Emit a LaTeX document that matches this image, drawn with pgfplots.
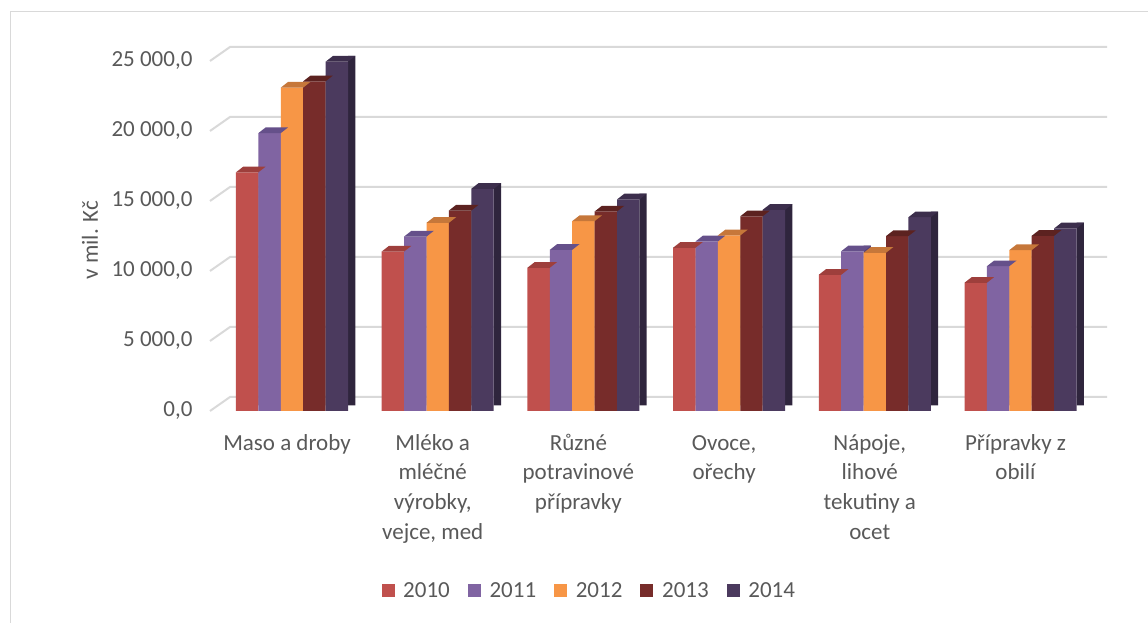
\documentclass[border=0pt]{standalone}
\usepackage{pgfplots}
\usepackage{pgfplotstable}
\usepackage{fontspec}
\setmainfont{Carlito}
\pgfplotsset{compat=1.18}
\definecolor{c2010}{HTML}{C0504D}
\definecolor{t2010c}{HTML}{9E3F3C}
\definecolor{s2010c}{HTML}{8A3533}
\definecolor{c2011}{HTML}{8064A2}
\definecolor{t2011c}{HTML}{65508A}
\definecolor{s2011c}{HTML}{574377}
\definecolor{c2012}{HTML}{F79646}
\definecolor{t2012c}{HTML}{C6773A}
\definecolor{s2012c}{HTML}{B06A33}
\definecolor{c2013}{HTML}{772C2A}
\definecolor{t2013c}{HTML}{5C2220}
\definecolor{s2013c}{HTML}{4F1D1C}
\definecolor{c2014}{HTML}{4B3A5E}
\definecolor{t2014c}{HTML}{3C2E4C}
\definecolor{s2014c}{HTML}{2F253D}
\definecolor{gridc}{HTML}{D9D9D9}
\definecolor{textc}{HTML}{595959}
\newcommand\labsize{\fontsize{17.25}{22.2}\selectfont}
\newcommand\ticksize{\fontsize{17.25}{20}\selectfont}
\newcommand\fs{\rule{0pt}{15pt}}
% top face of a bar, as a plot mark drawn at the bar's top centre
\pgfdeclareplotmark{topface}{%
  \pgfpathmoveto{\pgfqpoint{-8.4pt}{0pt}}%
  \pgfpathlineto{\pgfqpoint{8.4pt}{0pt}}%
  \pgfpathlineto{\pgfqpoint{13.9pt}{4.3pt}}%
  \pgfpathlineto{\pgfqpoint{-2.9pt}{4.3pt}}%
  \pgfpathclose
  \pgfusepathqfill}
\pgfplotstableread{
x t2010 t2011 t2012 t2013 t2014
0 17050 19850 23100 23550 24950
1 11390 12460 13440 14320 15870
2 10230 11510 13560 14250 15110
3 11660 12110 12540 13910 14370
4  9730 11410 11300 12490 13840
5  9160 10340 11490 12510 13040
}\data
\pgfplotsset{
  frontbar/.style={ybar, bar width=16.8pt, draw=none, fill=#1,
    legend image code/.code={\fill[fill=#1] (0pt,-4.9pt) rectangle (9.75pt,4.9pt);}},
  sidebar/.style={forget plot, ybar, bar width=5.5pt, draw=none, fill=#1, yshift=4.3pt},
  topbar/.style={forget plot, only marks, mark=topface, mark options={draw=none, fill=#1}},
}
\begin{document}
\begin{tikzpicture}
\begin{axis}[
  x=109.275pt, y=688sp,
  xmin=-0.5, xmax=5.5, ymin=0, ymax=25000,
  clip=false,
  axis line style={draw=none},
  major tick length=0pt,
  xtick={0,...,5},
  xticklabels={{\fs Maso a droby},{\fs Mléko a\\mléčné\\výrobky,\\vejce, med},{\fs Různé\\potravinové\\přípravky},{\fs Ovoce,\\ořechy},{\fs Nápoje,\\lihové\\tekutiny a\\ocet},{\fs Přípravky z\\obilí}},
  xticklabel style={font=\labsize, text=textc, align=center, yshift=-11pt, xshift=-3.75pt},
  ytick={0,5000,10000,15000,20000,25000},
  scaled y ticks=false,
  yticklabel style={font=\ticksize, text=textc, xshift=-16.5pt,
    /pgf/number format/fixed, /pgf/number format/fixed zerofill,
    /pgf/number format/precision=1, /pgf/number format/use comma,
    /pgf/number format/1000 sep={\ }, /pgf/number format/assume math mode=true},
  legend columns=5,
  legend style={at={(axis description cs:0.4238,-0.513)}, anchor=center,
    draw=none, fill=none, font=\labsize, text=textc,
    /tikz/every odd column/.append style={column sep=4.5pt},
    /tikz/every even column/.append style={column sep=11.5pt}},
]
\draw[gridc, line width=1.5pt] (axis cs:-0.5628,0) -- (axis cs:-0.4255,1000) -- (axis cs:5.594,1000);
\draw[gridc, line width=1.5pt] (axis cs:-0.5628,5000) -- (axis cs:-0.4255,6000) -- (axis cs:5.594,6000);
\draw[gridc, line width=1.5pt] (axis cs:-0.5628,10000) -- (axis cs:-0.4255,11000) -- (axis cs:5.594,11000);
\draw[gridc, line width=1.5pt] (axis cs:-0.5628,15000) -- (axis cs:-0.4255,16000) -- (axis cs:5.594,16000);
\draw[gridc, line width=1.5pt] (axis cs:-0.5628,20000) -- (axis cs:-0.4255,21000) -- (axis cs:5.594,21000);
\draw[gridc, line width=1.5pt] (axis cs:-0.5628,25000) -- (axis cs:-0.4255,26000) -- (axis cs:5.594,26000);
\coordinate (O) at (axis cs:0,0);

\addplot[sidebar=s2010c, bar shift=-22.45pt] table[x=x,y=t2010]{\data};
\addplot[frontbar=c2010, bar shift=-33.6pt] table[x=x,y=t2010]{\data};
\addlegendentry{2010}
\addplot[topbar=t2010c, xshift=-33.6pt] table[x=x,y=t2010]{\data};

\addplot[sidebar=s2011c, bar shift=-5.65pt] table[x=x,y=t2011]{\data};
\addplot[frontbar=c2011, bar shift=-16.8pt] table[x=x,y=t2011]{\data};
\addlegendentry{2011}
\addplot[topbar=t2011c, xshift=-16.8pt] table[x=x,y=t2011]{\data};

\addplot[sidebar=s2012c, bar shift=11.15pt] table[x=x,y=t2012]{\data};
\addplot[frontbar=c2012, bar shift=0pt] table[x=x,y=t2012]{\data};
\addlegendentry{2012}
\addplot[topbar=t2012c] table[x=x,y=t2012]{\data};

\addplot[sidebar=s2013c, bar shift=27.95pt] table[x=x,y=t2013]{\data};
\addplot[frontbar=c2013, bar shift=16.8pt] table[x=x,y=t2013]{\data};
\addlegendentry{2013}
\addplot[topbar=t2013c, xshift=16.8pt] table[x=x,y=t2013]{\data};

\addplot[sidebar=s2014c, bar shift=44.75pt] table[x=x,y=t2014]{\data};
\addplot[frontbar=c2014, bar shift=33.6pt] table[x=x,y=t2014]{\data};
\addlegendentry{2014}
\addplot[topbar=t2014c, xshift=33.6pt] table[x=x,y=t2014]{\data};

\node[rotate=90, font=\labsize, text=textc] at (axis cs:-1.386,12214) {v mil. Kč};
\end{axis}
\pgfresetboundingbox
\path[use as bounding box] ([shift={(-219pt,-159pt)}]O) rectangle ([shift={(642pt,308.25pt)}]O);
\draw[gridc, line width=1pt] ([shift={(-211.1pt,-162pt)}]O) -- ([shift={(-211.1pt,299.6pt)}]O) -- ([shift={(645pt,299.6pt)}]O);
\end{tikzpicture}
\end{document}
